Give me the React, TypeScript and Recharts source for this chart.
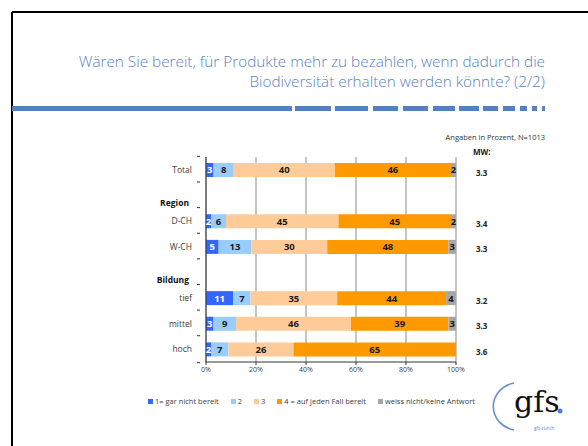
import { Bar, BarChart, CartesianGrid, LabelList, Legend, XAxis, YAxis } from "recharts";

const categories = ["Total", "Region", "D-CH", "W-CH", "Bildung", "tief", "mittel", "hoch"];
const headerRows = ["Region", "Bildung"];

const garNicht = [3, null, 2, 5, null, 11, 3, 2];
const zwei = [8, null, 6, 13, null, 7, 9, 7];
const drei = [40, null, 45, 30, null, 35, 46, 26];
const auf = [46, null, 45, 48, null, 44, 39, 65];
const weissNicht = [2, null, 2, 3, null, 4, 3, 0];
const mw = ["3.3", "", "3.4", "3.3", "", "3.2", "3.3", "3.6"];

const xTicks = [0, 0.2, 0.4, 0.6, 0.8, 1];

const SERIES = [
  { key: "s1", name: "1= gar nicht bereit", color: "#3366FF", values: garNicht, labelColor: "#ffffff" },
  { key: "s2", name: "2", color: "#99CCFF", values: zwei, labelColor: "#1a1a1a" },
  { key: "s3", name: "3", color: "#FFCC99", values: drei, labelColor: "#1a1a1a" },
  { key: "s4", name: "4 = auf jeden Fall bereit", color: "#FF9900", values: auf, labelColor: "#1a1a1a" },
  { key: "s5", name: "weiss nicht/keine Antwort", color: "#A6A6A6", values: weissNicht, labelColor: "#1a1a1a" },
];

const data = categories.map((name, i) => {
  const row: Record<string, string | number | null> = { name };
  SERIES.forEach((s) => {
    row[s.key] = s.values[i];
  });
  return row;
});

// decoration: the blue rule under the title (solid part, then shrinking dashes)
const DASHES: Array<[number, number]> = [
  [12, 292], [295, 331], [335, 368], [373, 398], [403, 428], [433, 455],
  [459, 479], [483, 498], [503, 515], [520, 527], [532, 537], [542, 545],
];

const FONT = "'Open Sans', 'Noto Sans', sans-serif";
const BAND = 26.9;

function CategoryTick(props: any) {
  const { x, y, payload, index } = props;
  const isHeader = headerRows.includes(payload.value);
  return (
    <g>
      <line x1={x + 8} x2={x + 5} y1={y - BAND / 2} y2={y - BAND / 2} stroke="#333" strokeWidth={1} />
      {index === categories.length - 1 && (
        <line x1={x + 8} x2={x + 5} y1={y + BAND / 2} y2={y + BAND / 2} stroke="#333" strokeWidth={1} />
      )}
      <text
        x={isHeader ? x - 3 : x}
        y={isHeader ? y + 8 : y}
        dy="0.35em"
        textAnchor="end"
        fontSize={8.5}
        fontFamily={FONT}
        fontWeight={isHeader ? 700 : 400}
        fill={isHeader ? "#111" : "#404040"}
      >
        {payload.value}
      </text>
    </g>
  );
}

function MwTick(props: any) {
  const { x, y, index } = props;
  return (
    <text x={x} y={y + 3} dy="0.35em" textAnchor="start" fontSize={8} fontWeight={700} fontFamily={FONT} fill="#222">
      {mw[index]}
    </text>
  );
}

function makeLabel(color: string) {
  return (props: any) => {
    const { x, y, width, height, value } = props;
    if (value == null || value === 0) return null;
    return (
      <text
        x={x + width / 2}
        y={y + height / 2}
        dy="0.36em"
        textAnchor="middle"
        fontSize={9.5}
        fontWeight={700}
        fontFamily={FONT}
        fill={color}
      >
        {value}
      </text>
    );
  };
}

function LegendContent() {
  return (
    <div style={{ display: "flex", gap: 12, fontFamily: FONT, fontSize: 7.5, color: "#404040", whiteSpace: "nowrap" }}>
      {SERIES.map((s) => (
        <span key={s.key} style={{ display: "flex", alignItems: "center" }}>
          <span style={{ width: 5, height: 5, background: s.color, marginRight: 2, display: "inline-block" }} />
          {s.name}
        </span>
      ))}
    </div>
  );
}

export default function App() {
  return (
    <div style={{ position: "fixed", left: 0, top: 0, width: 588, height: 446, background: "#fff", overflow: "hidden" }}>
      <svg width={588} height={446} style={{ position: "absolute", left: 0, top: 0 }}>
        <line x1={12} y1={12} x2={588} y2={12} stroke="#000" strokeWidth={2} />
        <line x1={12} y1={12} x2={12} y2={446} stroke="#000" strokeWidth={2} />
        <text x={545} y={67} textAnchor="end" fontSize={15.3} fontWeight={300} fontFamily={FONT} fill="#5A83C4">
          Wären Sie bereit, für Produkte mehr zu bezahlen, wenn dadurch die
        </text>
        <text x={545} y={87} textAnchor="end" fontSize={15.3} fontWeight={300} fontFamily={FONT} fill="#5A83C4">
          Biodiversität erhalten werden könnte? (2/2)
        </text>
        {DASHES.map(([a, b], i) => (
          <rect key={i} x={a} y={106} width={b - a} height={5} fill="#5580C0" />
        ))}
        <text x={545} y={140} textAnchor="end" fontSize={7.5} fontFamily={FONT} fill="#333">
          Angaben in Prozent, N=1013
        </text>
        <text x={473} y={155} fontSize={8} fontWeight={700} fontFamily={FONT} fill="#222">
          MW:
        </text>
        {/* gfs logo */}
        <path d="M514 383 A26 24 0 0 0 514 430" fill="none" stroke="#6C8FD0" strokeWidth={1.6} />
        <text x={514} y={412} fontSize={30} fontFamily="'DejaVu Serif', 'Liberation Serif', serif" fill="#111">
          gfs
        </text>
        <circle cx={560} cy={411} r={2.5} fill="#4F7FD0" />
        <text x={534} y={430} fontSize={4.5} fontFamily={FONT} fill="#4F7FD0">
          gfs-zürich
        </text>
      </svg>
      <div style={{ position: "absolute", left: 0, top: 0 }}>
        <BarChart
          width={588}
          height={446}
          data={data}
          layout="vertical"
          stackOffset="expand"
          barSize={14}
          margin={{ top: 157, right: 72, bottom: 54, left: 106 }}
        >
          <CartesianGrid horizontal={false} stroke="#A6A6A6" strokeWidth={1.3} />
          <XAxis
            type="number"
            domain={[0, 1]}
            ticks={xTicks}
            tickFormatter={(v: number) => `${Math.round(v * 100)}%`}
            axisLine={{ stroke: "#333" }}
            tickLine={{ stroke: "#333" }}
            tickSize={3}
            height={20}
            tick={{ fontSize: 7, fill: "#404040", fontFamily: FONT }}
          />
          <YAxis
            type="category"
            dataKey="name"
            width={100}
            axisLine={{ stroke: "#333" }}
            tickLine={false}
            tickMargin={8}
            tick={<CategoryTick />}
          />
          <YAxis
            yAxisId="mw"
            orientation="right"
            type="category"
            dataKey="name"
            width={60}
            axisLine={false}
            tickLine={false}
            tickSize={0}
            tickMargin={20}
            tick={<MwTick />}
          />
          <Legend
            verticalAlign="bottom"
            content={<LegendContent />}
            wrapperStyle={{ position: "absolute", left: 148, top: 396, width: 340, bottom: "auto" }}
          />
          {SERIES.map((s) => (
            <Bar key={s.key} dataKey={s.key} name={s.name} stackId="a" fill={s.color} isAnimationActive={false}>
              <LabelList dataKey={s.key} content={makeLabel(s.labelColor)} />
            </Bar>
          ))}
        </BarChart>
      </div>
    </div>
  );
}
